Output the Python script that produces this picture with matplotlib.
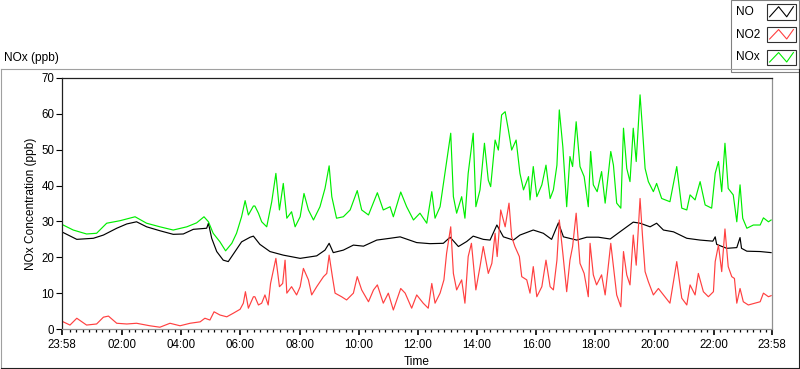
import matplotlib
matplotlib.use("Agg")
import matplotlib.pyplot as plt
from matplotlib.lines import Line2D
from matplotlib.patches import Rectangle

plt.rcParams['font.family'] = ['Liberation Sans', 'DejaVu Sans']

# hours since 23:58 and ppb values
no_t = [0.04, 0.5, 1.06, 1.4, 1.85, 2.19, 2.52, 2.86, 3.31, 3.76, 4.1, 4.44, 4.89, 4.95, 5.06,
        5.23, 5.45, 5.62, 5.85, 6.07, 6.36, 6.47, 6.69, 7.03, 7.48, 8.05, 8.61, 8.89, 9.03, 9.17,
        9.51, 9.85, 10.19, 10.64, 11.09, 11.43, 11.99, 12.44, 12.89, 13.12, 13.4, 13.68, 13.9,
        14.24, 14.47, 14.7, 14.92, 15.26, 15.48, 15.93, 16.27, 16.55, 16.78, 16.95, 17.4, 17.74,
        18.13, 18.53, 18.86, 19.31, 19.54, 19.88, 20.1, 20.33, 20.67, 21.12, 21.57, 22.0, 22.08,
        22.13, 22.47, 22.81, 22.92, 22.97, 23.15, 23.6, 23.97]
no_v = [26.9, 25.0, 25.3, 26.2, 28.1, 29.3, 29.9, 28.5, 27.4, 26.4, 26.5, 27.8, 28.1, 29.5, 25.3,
        21.6, 19.2, 18.8, 21.6, 24.3, 25.6, 25.9, 23.6, 21.6, 20.6, 19.7, 20.4, 22.0, 23.9, 21.3,
        22.0, 23.4, 23.1, 24.8, 25.3, 25.7, 24.1, 23.8, 23.9, 25.6, 23.0, 24.4, 25.9,
        25.0, 24.8, 29.0, 25.7, 24.8, 26.2, 27.6, 26.7, 25.0, 29.6, 25.7, 24.8, 25.6,
        25.6, 25.1, 27.1, 29.8, 29.5, 28.5, 29.5, 27.6, 27.1, 25.3, 24.8, 24.5, 25.7,
        23.6, 22.5, 22.7, 25.5, 22.5, 21.7, 21.6, 21.3]

no2_t = [0.04, 0.27, 0.5, 0.83, 1.17, 1.4, 1.57, 1.85, 2.19, 2.52, 2.97, 3.31, 3.65, 3.99, 4.33,
         4.67, 4.83, 5.0, 5.14, 5.34, 5.57, 5.79, 6.02, 6.13, 6.2, 6.3, 6.47, 6.52, 6.64, 6.75,
         6.86, 6.97, 7.05, 7.23, 7.35, 7.46, 7.54, 7.6, 7.76, 7.93, 8.05, 8.16, 8.33, 8.44, 8.61,
         8.84, 8.95, 9.03, 9.14, 9.23, 9.45, 9.62, 9.85, 9.98, 10.13, 10.36, 10.53, 10.66, 10.86,
         11.03, 11.2, 11.45, 11.6, 11.82, 11.99, 12.21, 12.38, 12.5, 12.61, 12.78, 12.91, 13.0,
         13.14, 13.23, 13.34, 13.51, 13.62, 13.73, 13.84, 13.99, 14.13, 14.24, 14.41, 14.53,
         14.64, 14.71, 14.83, 14.98, 15.11, 15.2, 15.31, 15.46, 15.54, 15.71, 15.82, 15.93,
         16.05, 16.22, 16.36, 16.5, 16.61, 16.73, 16.81, 16.93, 17.06, 17.17, 17.26, 17.38,
         17.51, 17.65, 17.79, 17.85, 17.96, 18.07, 18.24, 18.36, 18.55, 18.66, 18.75, 18.89,
         18.98, 19.09, 19.2, 19.31, 19.41, 19.54, 19.62, 19.71, 19.82, 19.99, 20.16, 20.33,
         20.55, 20.78, 20.95, 21.12, 21.23, 21.4, 21.51, 21.68, 21.85, 22.02, 22.08, 22.19,
         22.3, 22.41, 22.52, 22.64, 22.73, 22.81, 22.92, 23.03, 23.2, 23.43, 23.6, 23.71,
         23.88, 23.97]
no2_v = [2.0, 1.1, 3.0, 1.1, 1.4, 3.3, 3.6, 1.6, 1.4, 1.6, 0.9, 0.5, 1.6, 0.9, 1.6,
         2.0, 3.0, 2.5, 4.8, 3.9, 3.4, 4.4, 5.5, 7.2, 10.4, 5.8, 9.0, 9.0, 6.7, 7.2,
         9.5, 6.7, 12.7, 19.7, 11.8, 12.7, 19.2, 10.0, 11.8, 9.5, 11.8, 16.9, 13.7, 9.5, 11.8,
         14.6, 15.5, 20.6, 14.6, 10.0, 9.0, 8.1, 10.0, 14.6, 10.9, 7.6, 10.9, 12.3, 7.2,
         10.0, 5.3, 11.3, 10.0, 5.8, 9.5, 7.2, 5.8, 12.7, 7.2, 10.0, 13.7, 21.1,
         28.5, 15.5, 10.9, 13.7, 7.2, 20.2, 23.9, 10.9, 17.4, 23.0, 15.5, 18.3,
         26.7, 20.2, 33.2, 28.5, 35.1, 25.7, 23.0, 20.2, 14.6, 13.7, 10.0, 17.4,
         9.0, 11.8, 19.2, 11.8, 10.9, 19.2, 30.4, 21.1, 10.4, 19.2, 23.0, 32.3,
         18.3, 15.5, 9.0, 23.9, 15.1, 12.3, 15.1, 9.5, 23.9, 16.0, 9.5, 6.2,
         21.6, 15.1, 12.3, 26.2, 17.8, 36.4, 26.2, 16.0, 13.2, 9.5, 11.3, 9.5,
         7.2, 18.8, 8.6, 6.7, 12.3, 9.5, 15.5, 10.4, 9.0, 10.4, 18.8, 23.4,
         16.0, 27.9, 17.4, 14.6, 14.1, 7.2, 11.3, 7.6, 6.7, 7.2, 7.6, 10.0,
         9.0, 9.3]

nox_t = [0.04, 0.38, 0.83, 1.17, 1.51, 1.96, 2.47, 2.86, 3.31, 3.76, 4.22, 4.55, 4.8, 4.95, 5.11,
         5.34, 5.53, 5.74, 5.9, 6.07, 6.19, 6.3, 6.47, 6.52, 6.64, 6.75, 6.92, 7.09, 7.23, 7.35,
         7.48, 7.6, 7.76, 7.88, 8.05, 8.18, 8.33, 8.5, 8.72, 8.89, 9.03, 9.12, 9.28, 9.51, 9.74,
         9.98, 10.13, 10.36, 10.66, 10.86, 11.09, 11.2, 11.45, 11.65, 11.88, 12.1, 12.33, 12.5,
         12.61, 12.78, 13.0, 13.14, 13.23, 13.34, 13.51, 13.62, 13.73, 13.9, 13.99, 14.13, 14.28,
         14.41, 14.49, 14.64, 14.75, 14.86, 14.98, 15.09, 15.2, 15.35, 15.48, 15.6, 15.77, 15.82,
         15.93, 16.05, 16.22, 16.36, 16.5, 16.61, 16.73, 16.81, 16.93, 17.06, 17.17, 17.26,
         17.38, 17.51, 17.65, 17.79, 17.87, 17.96, 18.09, 18.24, 18.36, 18.55, 18.64, 18.75,
         18.89, 18.98, 19.09, 19.2, 19.31, 19.41, 19.54, 19.62, 19.71, 19.82, 19.99, 20.1,
         20.27, 20.55, 20.78, 20.95, 21.12, 21.23, 21.4, 21.57, 21.74, 21.96, 22.08, 22.19,
         22.3, 22.41, 22.52, 22.69, 22.81, 22.92, 23.01, 23.15, 23.37, 23.6, 23.71, 23.88, 23.97]
nox_v = [29.0, 27.6, 26.5, 26.7, 29.5, 30.2, 31.3, 29.5, 28.5, 27.6, 28.5, 29.6, 31.3, 29.9, 26.7,
         24.3, 21.8, 23.9, 26.7, 31.3, 35.8, 31.8, 34.3, 34.3, 32.3, 29.9, 28.5, 35.5, 43.4, 33.2,
         40.6, 30.9, 32.7, 28.5, 31.3, 37.8, 33.2, 30.4, 34.1, 39.2, 45.5, 36.9, 30.9, 31.3, 33.2,
         38.6, 33.2, 31.8, 38.0, 33.2, 34.1, 31.3, 38.2, 34.1, 30.4, 32.3, 29.5, 38.3,
         30.9, 34.1, 46.7, 54.6, 36.9, 32.3, 36.9, 30.9, 43.4, 54.6, 34.1, 38.8, 51.8,
         41.5, 39.7, 52.7, 49.9, 59.7, 60.6, 55.5, 49.9, 52.7, 43.4, 38.8, 42.5, 36.0,
         45.3, 36.9, 40.2, 45.7, 36.4, 38.8, 45.7, 61.1, 50.8, 34.1, 48.1, 45.3,
         57.8, 45.3, 42.5, 34.1, 49.5, 40.2, 38.3, 43.9, 35.1, 49.5, 45.7, 35.1,
         33.7, 56.0, 44.8, 41.1, 56.0, 46.7, 65.3, 56.0, 44.8, 41.1, 38.3, 40.6,
         36.4, 35.5, 45.3, 33.7, 33.2, 37.4, 36.0, 41.1, 34.6, 33.7, 43.4, 46.7,
         38.3, 51.8, 39.2, 37.4, 29.9, 40.2, 30.9, 28.1, 29.0, 29.0, 31.0, 29.9, 30.4]

series_names = ['NO', 'NO2', 'NOx']
series_colors = ['#000000', '#ff4040', '#00ee00']

x_labels = ['23:58', '02:00', '04:00', '06:00', '08:00', '10:00', '12:00', '14:00',
            '16:00', '18:00', '20:00', '22:00', '23:58']

W, H = 800, 369
fig = plt.figure(figsize=(W / 100, H / 100), dpi=100)


def fx(px):
    return px / W


def fy(py):
    return 1 - py / H


# panel frame
fig.add_artist(Line2D([fx(0.5), fx(798.5)], [fy(68.5), fy(68.5)], color='#a0a0a0', lw=0.8))
fig.add_artist(Line2D([fx(0.5), fx(0.5)], [fy(68.5), fy(367.5)], color='#a0a0a0', lw=0.8))
fig.add_artist(Line2D([fx(0.5), fx(798.5)], [fy(367.5), fy(367.5)], color='#202020', lw=0.8))
fig.add_artist(Line2D([fx(798.5), fx(798.5)], [fy(68.5), fy(367.5)], color='#202020', lw=0.8))

ax = fig.add_axes([fx(62), fy(329), fx(772) - fx(62), fy(78) - fy(329)])

ax.plot(no_t, no_v, color=series_colors[0], lw=0.85)
ax.plot(no2_t, no2_v, color=series_colors[1], lw=0.85)
ax.plot(nox_t, nox_v, color=series_colors[2], lw=0.85)

ax.set_xlim(0, 24)
ax.set_ylim(0, 70)

major = [0] + [2 + 2 / 60 + 2 * i for i in range(11)] + [24]
ax.set_xticks(major)
ax.set_xticklabels(x_labels, fontsize=8.3)
minor = [2 + 2 / 60 + k * 2 / 9 for k in range(-9, 99)]
minor = [m for m in minor if 0 < m < 24 and all(abs(m - j) > 0.05 for j in major)]
ax.set_xticks(minor, minor=True)
ax.tick_params(axis='x', which='major', length=4, width=1.2, pad=3)
ax.tick_params(axis='x', which='minor', length=2.5, width=0.9)

ax.set_yticks(range(0, 71, 10))
ax.tick_params(axis='y', which='major', length=4, width=0.8, labelsize=8.3, pad=1.5)

ax.spines['top'].set_color('#202020')
ax.spines['left'].set_color('#202020')
ax.spines['bottom'].set_color('#909090')
ax.spines['right'].set_color('#909090')
for s in ax.spines.values():
    s.set_linewidth(0.9)

ax.set_xlabel('Time', fontsize=8.6, labelpad=4)
ax.set_ylabel('NOx Concentration (ppb)', fontsize=8.6, labelpad=3)

fig.text(fx(4), fy(58), 'NOx (ppb)', fontsize=8.6, va='center', ha='left')

# legend box
fig.add_artist(Rectangle((fx(730.5), fy(72)), fx(799) - fx(730.5), fy(0) - fy(72),
                         facecolor='white', edgecolor='#808080', lw=0.8))
rows = [(4, 20), (27, 42), (50, 65)]
for name, col, (top, bot) in zip(series_names, series_colors, rows):
    fig.text(fx(736), fy((top + bot) / 2), name, fontsize=8.6, va='center', ha='left')
    fig.add_artist(Rectangle((fx(767), fy(bot)), fx(796) - fx(767), fy(top) - fy(bot),
                             facecolor='white', edgecolor='#303030', lw=0.8))
    zx = [767 + 29 * f for f in (0.09, 0.4, 0.68, 0.91)]
    zy = [top + (bot - top) * f for f in (0.8, 0.17, 0.8, 0.17)]
    fig.add_artist(Line2D([fx(v) for v in zx], [fy(v) for v in zy], color=col, lw=0.8))

fig.savefig('out.png', dpi=100)
